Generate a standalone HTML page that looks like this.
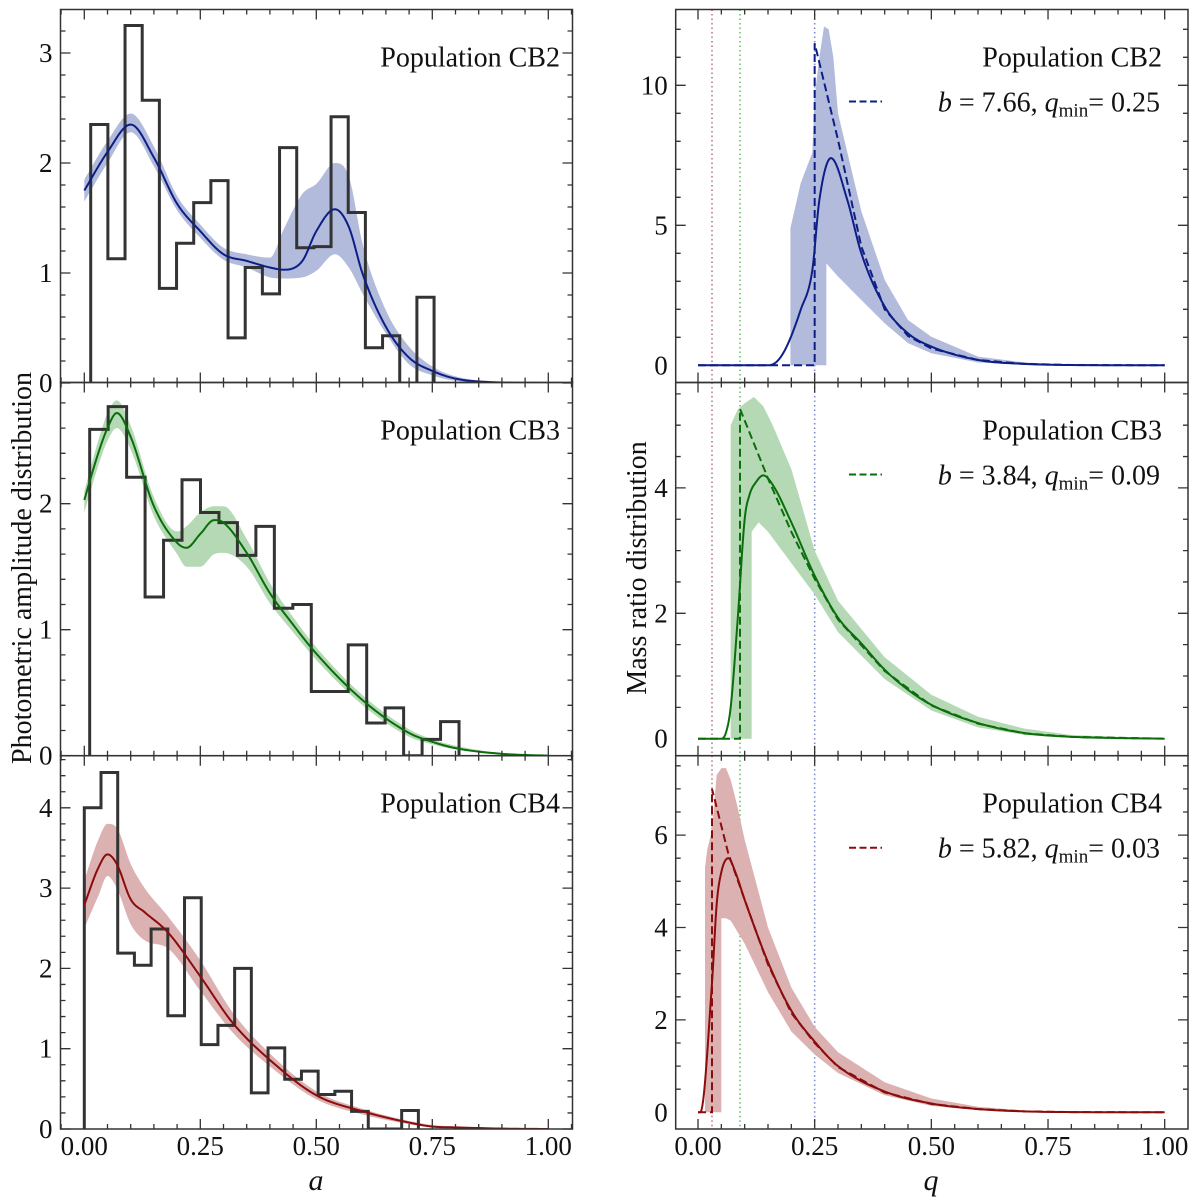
<!DOCTYPE html>
<html><head><meta charset="utf-8"><style>
html,body{margin:0;padding:0;background:#fff}
svg{display:block}
svg text{font-family:"Liberation Serif","DejaVu Serif",serif}
</style></head><body>
<svg id="fig" width="1200" height="1204" viewBox="0 0 1200 1204" xmlns="http://www.w3.org/2000/svg" font-family="Liberation Serif, DejaVu Serif, serif"></svg>
<script>
// ---------- data: left column (photometric amplitude) ----------
const aGrid2=[0,0.05,0.1,0.15,0.2,0.25,0.3,0.35,0.4,0.43,0.47,0.5,0.54,0.57,0.6,0.65,0.7,0.75,0.8,0.9,1.0];
const mean2=[1.75,2.1,2.35,2.05,1.63,1.38,1.17,1.11,1.05,1.03,1.11,1.38,1.58,1.42,0.99,0.51,0.23,0.11,0.04,0.005,0];
const upper2=[1.85,2.2,2.45,2.15,1.7,1.44,1.23,1.17,1.14,1.4,1.72,1.81,2.0,1.88,1.26,0.66,0.33,0.15,0.06,0.01,0];
const lower2=[1.65,2.0,2.28,1.97,1.57,1.32,1.12,1.05,0.96,0.95,0.96,1.02,1.17,1.05,0.81,0.45,0.17,0.07,0.02,0,0];
const hist2Start=0.0138, hist2Width=0.037;
const hist2=[2.35,1.13,3.25,2.57,0.86,1.27,1.64,1.84,0.41,1.05,0.81,2.14,1.23,1.24,2.42,1.55,0.32,0.43,0,0.78];

const aGrid3=[0,0.03,0.05,0.07,0.1,0.15,0.2,0.22,0.25,0.28,0.3,0.35,0.4,0.45,0.5,0.6,0.7,0.75,0.8,0.9,1.0];
const mean3=[2.03,2.4,2.6,2.72,2.53,1.98,1.69,1.65,1.76,1.87,1.85,1.61,1.29,1.04,0.81,0.44,0.18,0.11,0.06,0.015,0];
const upper3=[2.1,2.5,2.72,2.82,2.62,2.05,1.78,1.82,1.93,1.98,1.98,1.72,1.37,1.1,0.86,0.48,0.21,0.13,0.08,0.02,0];
const lower3=[1.93,2.3,2.5,2.6,2.43,1.9,1.6,1.5,1.5,1.6,1.61,1.5,1.21,0.98,0.76,0.4,0.15,0.09,0.05,0.01,0];
const hist3Start=0.0116, hist3Width=0.0398;
const hist3=[2.59,2.77,2.21,1.26,1.71,2.19,1.93,1.85,1.59,1.82,1.17,1.20,0.51,0.51,0.88,0.26,0.38,0,0.13,0.27];

const aGrid4=[0,0.03,0.05,0.07,0.1,0.13,0.18,0.25,0.32,0.4,0.5,0.6,0.7,0.75,0.8,0.9,1.0];
const mean4=[2.79,3.25,3.42,3.3,2.86,2.7,2.45,1.9,1.32,0.86,0.42,0.22,0.08,0.03,0.02,0.005,0];
const upper4=[3.1,3.6,3.8,3.75,3.3,3.0,2.65,2.1,1.45,0.94,0.47,0.25,0.1,0.05,0.03,0.01,0];
const lower4=[2.5,2.9,3.15,3.0,2.55,2.35,2.25,1.72,1.2,0.78,0.37,0.18,0.06,0.02,0.01,0,0];
const hist4Start=0, hist4Width=0.036;
const hist4=[4.0,4.44,2.19,2.04,2.49,1.41,2.88,1.05,1.29,2.0,0.45,1.01,0.62,0.72,0.43,0.47,0.22,0,0,0.23];

// ---------- data: right column (mass ratio) ----------
const qS2=[0,0.15,0.17,0.19,0.22,0.245,0.26,0.285,0.32,0.35,0.4,0.45,0.5,0.6,0.7,0.8,1.0];
const sS2=[0,0,0.15,0.67,1.98,3.4,5.9,7.4,5.9,4.0,2.1,1.14,0.67,0.19,0.05,0.01,0];
const qD2=[0,0.25,0.25,0.3,0.35,0.4,0.45,0.5,0.6,0.7,0.8,1.0];
const dD2=[0,0,11.5,8.05,4.24,2.0,1.05,0.6,0.19,0.05,0.01,0];
const qU2=[0.198,0.198,0.22,0.245,0.25,0.26,0.27,0.28,0.29,0.3,0.35,0.4,0.45,0.5,0.6,0.7,0.8,1.0];
const uB2=[0,4.9,6.5,7.6,9.6,11.0,12.1,12.0,11.0,9.0,5.5,3.05,1.62,1.02,0.31,0.1,0.02,0];
const qL2=[0.198,0.275,0.275,0.3,0.35,0.4,0.45,0.5,0.6,0.7,0.8,1.0];
const lB2=[0,0,3.64,3.17,2.33,1.5,0.79,0.43,0.1,0.02,0,0];

const qS3=[0,0.05,0.06,0.07,0.085,0.1,0.11,0.125,0.14,0.16,0.2,0.25,0.3,0.35,0.4,0.45,0.5,0.6,0.7,0.8,0.9,1.0];
const sS3=[0,0,0.1,0.5,1.9,3.5,3.88,4.1,4.2,4.05,3.45,2.6,1.93,1.52,1.1,0.78,0.54,0.25,0.09,0.03,0.01,0];
const qD3=[0,0.09,0.09,0.15,0.2,0.25,0.3,0.4,0.5,0.6,0.7,0.8,1.0];
const dD3=[0,0,5.26,4.15,3.3,2.55,1.9,1.08,0.53,0.24,0.085,0.03,0];
const qU3=[0.07,0.07,0.085,0.1,0.12,0.14,0.16,0.2,0.25,0.3,0.4,0.5,0.6,0.7,0.8,1.0];
const uB3=[0,5.0,5.25,5.35,5.45,5.3,5.0,4.3,3.0,2.2,1.3,0.7,0.35,0.16,0.06,0];
const qL3=[0.07,0.115,0.115,0.13,0.15,0.2,0.25,0.3,0.4,0.5,0.6,0.7,0.8,1.0];
const lB3=[0,0,3.3,3.45,3.3,2.8,2.3,1.7,0.95,0.45,0.18,0.06,0.02,0];

const qS4=[0,0.005,0.03,0.04,0.05,0.065,0.08,0.1,0.15,0.2,0.25,0.3,0.4,0.5,0.6,0.7,0.8,1.0];
const sS4=[0,0,2.8,4.5,5.2,5.5,5.2,4.6,3.25,2.2,1.53,1.0,0.45,0.19,0.07,0.02,0.005,0];
const qD4=[0,0.03,0.03,0.065,0.1,0.15,0.2,0.25,0.3,0.4,0.5,0.6,0.7,0.8,1.0];
const dD4=[0,0,7.0,5.6,4.6,3.2,2.15,1.5,0.98,0.43,0.18,0.07,0.02,0.005,0];
const qU4=[0.015,0.015,0.02,0.03,0.04,0.05,0.06,0.07,0.085,0.1,0.15,0.2,0.25,0.3,0.4,0.5,0.6,0.7,0.8,1.0];
const uB4=[0,5.3,5.7,6.1,7.3,7.45,7.45,7.2,6.6,5.9,4.0,2.7,1.85,1.3,0.65,0.3,0.12,0.04,0.01,0];
const qL4=[0.015,0.05,0.05,0.06,0.07,0.1,0.15,0.2,0.25,0.3,0.4,0.5,0.6,0.7,0.8,1.0];
const lB4=[0,0,4.2,4.2,4.15,3.65,2.6,1.75,1.25,0.85,0.37,0.14,0.05,0.01,0,0];

const qMins=[0.03,0.09,0.25];
const bValues=["7.66","3.84","5.82"];
const qMinLabels=["0.25","0.09","0.03"];
const popNames=["Population CB2","Population CB3","Population CB4"];
const xTickLabels=["0.00","0.25","0.50","0.75","1.00"];
const yMajorLeft=[[0,1,2,3],[0,1,2],[0,1,2,3,4]];
const yMajorRight=[[0,5,10],[0,2,4],[0,2,4,6]];

// ---------- layout ----------
const NS="http://www.w3.org/2000/svg";
const FONT="Liberation Serif, DejaVu Serif, serif";
const svg=document.getElementById('fig');
function el(tag,attrs,parent){const e=document.createElementNS(NS,tag);for(const k in attrs)e.setAttribute(k,attrs[k]);if(tag==='text')e.setAttribute('font-family',FONT);(parent||svg).appendChild(e);return e;}
const rowsY=[[9.5,382.5],[382.5,755.7],[755.7,1129]];
const cols=[{x0:60.5,x1:572.5,z:84.3,s:464},{x0:675.7,x1:1188,z:698,s:466.7}];
const yScaleL=[[383,110,0.2],[755.7,126,0.2],[1129,80.3,0.2]];
const yScaleR=[[365.3,28,1],[738.7,62.7,0.5],[1112.3,46.2,0.5]];
const colors=[{line:"#0d1f85",fill:"#b3bbdc"},{line:"#0a6e0a",fill:"#b5d9b5"},{line:"#8b0c0c",fill:"#dcb1b1"}];

function mkX(c){return v=>c.z+v*c.s;}
function mkY(sc){return v=>sc[0]-v*sc[1];}
function linePath(xs,ys,X,Y){return xs.map((x,i)=>(i?'L':'M')+X(x).toFixed(2)+','+Y(ys[i]).toFixed(2)).join('');}
// monotone cubic (Fritsch-Carlson) sampled densely
function smoothPts(xs,ys){
  const n=xs.length,d=[],m=new Array(n);
  for(let i=0;i<n-1;i++)d.push((ys[i+1]-ys[i])/(xs[i+1]-xs[i]));
  m[0]=d[0];m[n-1]=d[n-2];
  for(let i=1;i<n-1;i++){m[i]=(d[i-1]*d[i]<=0)?0:(d[i-1]+d[i])/2;}
  for(let i=0;i<n-1;i++){if(d[i]===0){m[i]=0;m[i+1]=0;continue;}const a=m[i]/d[i],b=m[i+1]/d[i],s=a*a+b*b;if(s>9){const t=3/Math.sqrt(s);m[i]=t*a*d[i];m[i+1]=t*b*d[i];}}
  const out=[];
  for(let i=0;i<n-1;i++){const h=xs[i+1]-xs[i];for(let k=0;k<12;k++){const t=k/12,t2=t*t,t3=t2*t;
    const y=(2*t3-3*t2+1)*ys[i]+(t3-2*t2+t)*h*m[i]+(-2*t3+3*t2)*ys[i+1]+(t3-t2)*h*m[i+1];out.push([xs[i]+t*h,y]);}}
  out.push([xs[n-1],ys[n-1]]);return out;}
function smoothPath(xs,ys,X,Y){return smoothPts(xs,ys).map((p,i)=>(i?'L':'M')+X(p[0]).toFixed(2)+','+Y(p[1]).toFixed(2)).join('');}
function smoothBand(xs,up,lo,X,Y){const u=smoothPts(xs,up),l=smoothPts(xs,lo);let d=u.map((p,i)=>(i?'L':'M')+X(p[0]).toFixed(2)+','+Y(p[1]).toFixed(2)).join('');for(let i=l.length-1;i>=0;i--)d+='L'+X(l[i][0]).toFixed(2)+','+Y(l[i][1]).toFixed(2);return d+'Z';}
function bandPath(xu,yu,xl,yl,X,Y){let d=linePath(xu,yu,X,Y);for(let i=xl.length-1;i>=0;i--)d+='L'+X(xl[i]).toFixed(2)+','+Y(yl[i]).toFixed(2);return d+'Z';}
function histPath(start,w,h,X,Y){let x=start;let d='M'+X(x)+','+Y(0);h.forEach(v=>{d+='L'+X(x)+','+Y(v);x+=w;d+='L'+X(x)+','+Y(v);});d+='L'+X(x)+','+Y(0);return d;}

function axes(c,r,sc,majors,ci,ri){
  const [y0,y1]=rowsY[r];const X=mkX(c),Y=mkY(sc);
  const g=el('g',{});  
  let d='';
  for(let k=-1;k<=21;k++){const v=k*0.05;const px=X(v);if(px<c.x0||px>c.x1)continue;const L=(k%5===0)?10:5;d+=`M${px},${y1}v${-L}M${px},${y0}v${L}`;}
  const ymin=(sc[0]-y1)/sc[1]*-1, ymax=(sc[0]-y0)/sc[1];
  for(let k=Math.ceil(ymin/sc[2]-1e-6);k*sc[2]<=ymax+1e-6;k++){const v=k*sc[2];const py=Y(v);if(py<y0-0.5||py>y1+0.5)continue;const isM=majors.some(m=>Math.abs(m-v)<1e-6);const L=isM?10:5;d+=`M${c.x0},${py}h${L}M${c.x1},${py}h${-L}`;}
  const t=el('path',{d:d,stroke:'#333',"stroke-width":1.3,fill:'none'},g);
  
  const fr=el('rect',{x:c.x0,y:y0,width:c.x1-c.x0,height:y1-y0,fill:'none',stroke:'#333',"stroke-width":1.5},g);
  
  majors.forEach(m=>{const tx=el('text',{x:c.x0-8,y:Y(m)+9,"text-anchor":"end","font-size":27,fill:'#111'},g);tx.textContent=m;
    });
  if(r===2){xTickLabels.forEach((lab,i)=>{const tx=el('text',{x:X(i*0.25),y:1155,"text-anchor":"middle","font-size":27,fill:'#111'},g);tx.textContent=lab;
    });}
}

const leftData=[[aGrid2,mean2,upper2,lower2,hist2Start,hist2Width,hist2],[aGrid3,mean3,upper3,lower3,hist3Start,hist3Width,hist3],[aGrid4,mean4,upper4,lower4,hist4Start,hist4Width,hist4]];
const rightData=[[qS2,sS2,qD2,dD2,qU2,uB2,qL2,lB2],[qS3,sS3,qD3,dD3,qU3,uB3,qL3,lB3],[qS4,sS4,qD4,dD4,qU4,uB4,qL4,lB4]];
const defs=el('defs',{});
for(let r=0;r<3;r++){for(let ci=0;ci<2;ci++){const c=cols[ci];const cp=el('clipPath',{id:`cp${ci}${r}`},defs);el('rect',{x:c.x0,y:rowsY[r][0],width:c.x1-c.x0,height:rowsY[r][1]-rowsY[r][0]},cp);}}

for(let r=0;r<3;r++){
  let c=cols[0],sc=yScaleL[r],X=mkX(c),Y=mkY(sc);const [ag,mn,up,lo,hs,hw,hv]=leftData[r];
  let g=el('g',{"clip-path":`url(#cp0${r})`});
  let b=el('path',{d:smoothBand(ag,up,lo,X,Y),fill:colors[r].fill,stroke:'none'},g);
  let h=el('path',{d:histPath(hs,hw,hv,X,Y),fill:'none',stroke:'#333',"stroke-width":3,"stroke-linejoin":"miter"},g);
  let m=el('path',{d:smoothPath(ag,mn,X,Y),fill:'none',stroke:colors[r].line,"stroke-width":2},g);
  axes(c,r,sc,yMajorLeft[r],0,r);
  let t=el('text',{x:560,y:rowsY[r][0]+57,"text-anchor":"end","font-size":28,fill:'#111'});t.textContent=popNames[r];

  c=cols[1];sc=yScaleR[r];X=mkX(c);Y=mkY(sc);const [qs,ss,qd,dd,qu,ub,ql,lb]=rightData[r];
  g=el('g',{"clip-path":`url(#cp1${r})`});
  qMins.forEach((q,i)=>{const vc=["#c47a7a","#6cbf6c","#7d8bd3"][i];const ln=el('line',{x1:X(q),x2:X(q),y1:rowsY[r][0],y2:rowsY[r][1],stroke:vc,"stroke-width":1.6,"stroke-dasharray":"1.5,3"},g);
    });
  b=el('path',{d:bandPath(qu,ub,ql,lb,X,Y),fill:colors[r].fill,stroke:'none',"stroke-linejoin":"round"},g);
  let dl=el('path',{d:linePath(qd,dd,X,Y),fill:'none',stroke:colors[r].line,"stroke-width":2,"stroke-dasharray":"8,4"},g);
  m=el('path',{d:smoothPath(qs,ss,X,Y),fill:'none',stroke:colors[r].line,"stroke-width":2},g);
  axes(c,r,sc,yMajorRight[r],1,r);
  t=el('text',{x:1162,y:rowsY[r][0]+57,"text-anchor":"end","font-size":28,fill:'#111'});t.textContent=popNames[r];
  const ly=rowsY[r][0]+102;
  let ls=el('line',{x1:849,x2:882,y1:ly-10,y2:ly-10,stroke:colors[r].line,"stroke-width":2,"stroke-dasharray":"7,3.5"});
  let lt=el('text',{x:1160,y:ly,"text-anchor":"end","font-size":28,fill:'#111'});
  lt.innerHTML=`<tspan font-style="italic">b</tspan> = ${bValues[r]}, <tspan font-style="italic">q</tspan><tspan font-size="19" dy="5">min</tspan><tspan dy="-5">= ${qMinLabels[r]}</tspan>`;
}
let tt=el('text',{x:0,y:0,transform:'translate(31,568) rotate(-90)',"text-anchor":"middle","font-size":28,fill:'#111'});tt.textContent='Photometric amplitude distribution';
tt=el('text',{x:0,y:0,transform:'translate(646,568) rotate(-90)',"text-anchor":"middle","font-size":28,fill:'#111'});tt.textContent='Mass ratio distribution';
tt=el('text',{x:316,y:1190,"text-anchor":"middle","font-size":30,"font-style":"italic",fill:'#111'});tt.textContent='a';
tt=el('text',{x:931,y:1190,"text-anchor":"middle","font-size":30,"font-style":"italic",fill:'#111'});tt.textContent='q';
</script>
</body></html>
